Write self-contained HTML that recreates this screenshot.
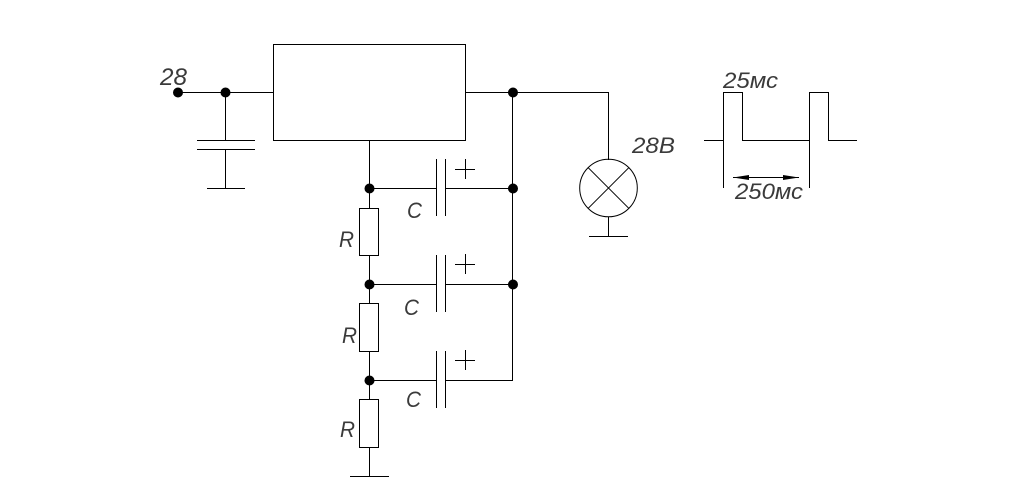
<!DOCTYPE html>
<html><head><meta charset="utf-8"><style>
html,body{margin:0;padding:0;background:#fff;width:1024px;height:487px;overflow:hidden}
svg{display:block}
text{font-family:"Liberation Sans",sans-serif;font-style:italic;font-size:22px;fill:#3a3a3a}
</style></head><body>
<svg width="1024" height="487" viewBox="0 0 1024 487" xmlns="http://www.w3.org/2000/svg">
<g fill="none" stroke="#000" stroke-width="1" shape-rendering="crispEdges">
<rect x="273.5" y="44.5" width="192" height="96"/>
<path d="M178 92.5H273M225.5 92.5V140.5M197 140.5H255M197 149.5H255M225.5 149.5V188.5M207 188.5H245"/>
<path d="M465 92.5H608.5V160M512.5 92V380.5H446"/>
<path d="M369.5 140V208M369.5 256V304M369.5 352V400M369.5 447V476.5M350 476.5H389"/>
<rect x="359.5" y="208.5" width="19" height="47"/>
<rect x="359.5" y="303.5" width="19" height="48"/>
<rect x="359.5" y="399.5" width="19" height="48"/>
<path d="M369.5 188.5H436.5M446 188.5H513M436.5 159V216M445.5 159V216M455 169.5H475M465.5 159V179"/>
<path d="M369.5 284.5H436.5M446 284.5H513M436.5 255V312M445.5 255V312M455 264.5H475M465.5 254V274"/>
<path d="M369.5 380.5H436.5M436.5 351V408M445.5 351V408M455 360.5H475M465.5 350V370"/>
<path d="M608.5 217V236.5M589 236.5H628"/>
<path d="M704 140.5H723.5M723.5 188V92.5H742.5V140.5H809.5M809.5 188V92.5H828.5V140.5H857"/>
<path d="M733 177.5H799"/>
</g>
<g fill="none" stroke="#000" stroke-width="1">
<circle cx="608.5" cy="188" r="28.8"/>
<path d="M588.2 167.7L628.8 208.3M628.8 167.7L588.2 208.3"/>
</g>
<g fill="#000">
<circle cx="178" cy="92.5" r="5"/><circle cx="225.5" cy="92.5" r="5"/>
<circle cx="513" cy="92.5" r="5"/><circle cx="513" cy="188.5" r="5"/><circle cx="513" cy="284.5" r="5"/>
<circle cx="369.5" cy="188.5" r="5"/><circle cx="369.5" cy="284.5" r="5"/><circle cx="369.5" cy="380.5" r="5"/>
<path d="M733 177.5L749 175V180ZM799 177.5L783 175V180Z"/>
</g>
<text x="160" y="85" font-size="24" style="font-size:24px" textLength="27" lengthAdjust="spacingAndGlyphs">28</text>
<text x="632" y="153" textLength="43" lengthAdjust="spacingAndGlyphs">28B</text>
<text x="723" y="88" textLength="55" lengthAdjust="spacingAndGlyphs">25мс</text>
<text x="735" y="199" textLength="68" lengthAdjust="spacingAndGlyphs">250мс</text>
<text x="407" y="218" textLength="15" lengthAdjust="spacingAndGlyphs">C</text>
<text x="404" y="315" textLength="15" lengthAdjust="spacingAndGlyphs">C</text>
<text x="406" y="407" textLength="15" lengthAdjust="spacingAndGlyphs">C</text>
<text x="339" y="247" textLength="15" lengthAdjust="spacingAndGlyphs">R</text>
<text x="342" y="343" textLength="15" lengthAdjust="spacingAndGlyphs">R</text>
<text x="340" y="437" textLength="15" lengthAdjust="spacingAndGlyphs">R</text>
</svg>
</body></html>
